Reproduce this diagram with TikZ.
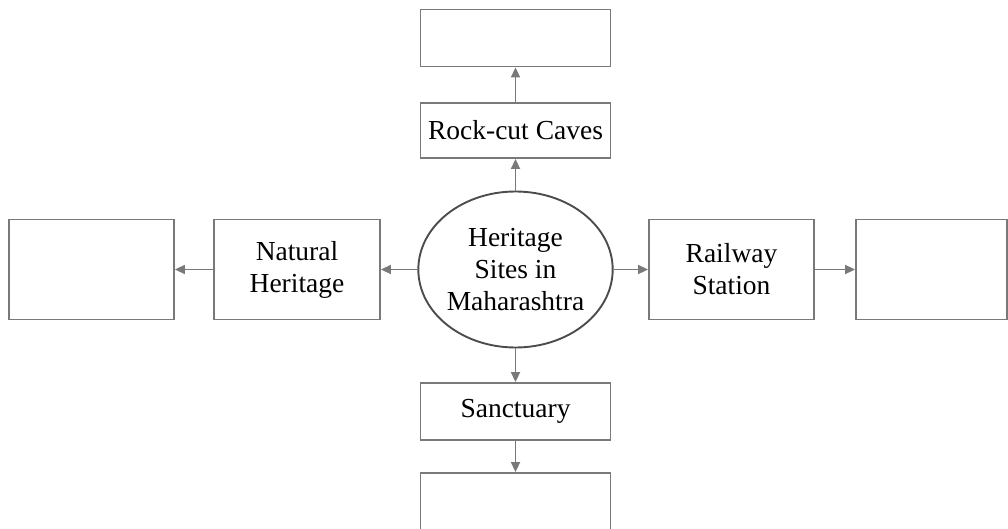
\documentclass[tikz,border=0pt]{standalone}
\usepackage{fontspec}
\setmainfont{Liberation Serif}
\usetikzlibrary{arrows.meta,shapes.geometric}
\begin{document}
\begin{tikzpicture}[x=1pt,y=1pt,
  box/.style={draw=gray!95!black,line width=1.9pt,rectangle,inner sep=0pt,align=center,
    font=\fontsize{27.5}{32}\selectfont},
  ell/.style={draw=black!70,line width=1.9pt,ellipse,inner sep=0pt,minimum width=189pt,minimum height=156pt,
    align=center,font=\fontsize{27.5}{32}\selectfont},
  arr/.style={draw=gray!95!black,line width=1.9pt,-{Triangle[length=10pt,width=9pt]}}]
\useasboundingbox (0,0) rectangle (1008,528);
\node[ell] (c) at (515.5,258.5) {Heritage\\Sites in\\Maharashtra};
\node[box,minimum width=190pt,minimum height=57pt] (top) at (515.5,490) {};
\node[box,minimum width=190pt,minimum height=55pt] (rock) at (515.5,397.5) {Rock-cut Caves};
\node[box,minimum width=190pt,minimum height=57pt] (sanc) at (515.5,116.5) {Sanctuary};
\node[box,minimum width=190pt,minimum height=100pt] (bot) at (515.5,5) {};
\node[box,minimum width=165pt,minimum height=100pt] (left) at (91.5,258.5) {};
\node[box,minimum width=166pt,minimum height=100pt] (nat) at (297,258.5) {Natural\\Heritage};
\node[box,minimum width=165pt,minimum height=100pt] (rail) at (731.5,258.5) {Railway\\Station};
\node[box,minimum width=151pt,minimum height=100pt] (right) at (931.5,258.5) {};
\draw[arr] (c.north) -- (rock.south);
\draw[arr] (rock.north) -- (top.south);
\draw[arr] (c.south) -- (sanc.north);
\draw[arr] (sanc.south) -- (bot.north);
\draw[arr] (c.west) -- (nat.east);
\draw[arr] (nat.west) -- (left.east);
\draw[arr] (c.east) -- (rail.west);
\draw[arr] (rail.east) -- (right.west);
\end{tikzpicture}
\end{document}
